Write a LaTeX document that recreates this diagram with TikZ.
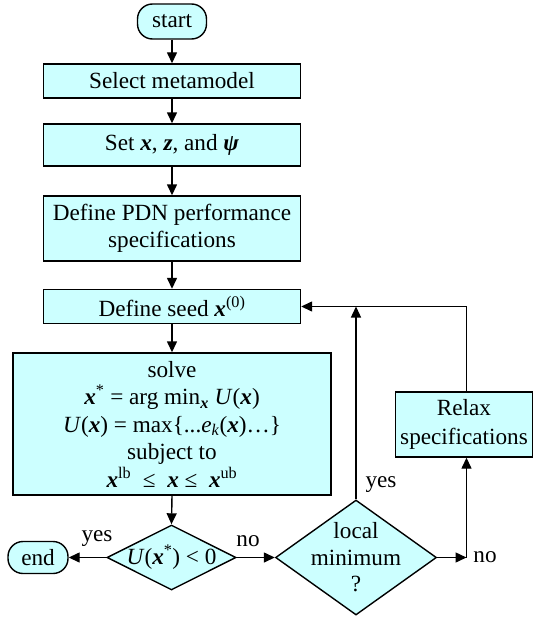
\documentclass[tikz,border=0pt]{standalone}
\usepackage{fontspec}
\setmainfont{Liberation Serif}
\usetikzlibrary{shapes.geometric,arrows.meta}
\definecolor{boxfill}{HTML}{CCFFFF}
\newcommand{\bvx}{\textbf{\textit{x}}}
\newcommand{\bvz}{\textbf{\textit{z}}}
\newcommand{\bvpsi}{\textbf{\textit{ψ}}}
\begin{document}
\begin{tikzpicture}[x=1pt,y=-1pt,
  font=\fontsize{23.2}{27}\selectfont,
  box/.style={draw, fill=boxfill, line width=1.4pt, inner sep=0pt, align=center},
  term/.style={box, rounded corners=15pt},
  dia/.style={draw, fill=boxfill, diamond, line width=1.4pt, inner sep=0pt},
  arr/.style={line width=1.4pt, -{Triangle[length=11pt,width=10pt]}},
  lab/.style={inner sep=0pt}]
\useasboundingbox (0,0) rectangle (533,618);

\node[term, minimum width=69pt, minimum height=35pt] (start) at (172,21.5) {start};
\node[box, minimum width=257pt, minimum height=34pt] (select) at (172,81) {Select metamodel};
\node[box, minimum width=257pt, minimum height=42pt] (set) at (172,145) {Set \bvx, \bvz, and \bvpsi};
\node[box, minimum width=257pt, minimum height=65pt, font=\fontsize{23.2}{26.5}\selectfont] (pdn) at (172,228.5) {Define PDN performance\\specifications};
\node[box, minimum width=257pt, minimum height=34pt] (seed) at (172,306.5) {Define seed \bvx\textsuperscript{(0)}};
\node[box, minimum width=318pt, minimum height=142pt, font=\fontsize{23.2}{27.5}\selectfont] (solve) at (172,424)
  {solve\\
   \bvx\textsuperscript{*} = arg min\textsubscript{\bvx} \textit{U}(\bvx)\\
   \textit{U}(\bvx) = max\{...\textit{e}\textsubscript{\textit{k}}(\bvx)…\}\\
   subject to\\
   \bvx\textsuperscript{lb} \ ≤ \ \bvx \ ≤ \ \bvx\textsuperscript{ub}};
\node[dia, minimum width=129pt, minimum height=65pt,
  label={center:{\textit{U}(\bvx\textsuperscript{*}) < 0}}] (d1) at (171.5,557.5) {};
\node[term, minimum width=60pt, minimum height=32pt] (end) at (38,557.5) {end};
\node[dia, minimum width=161pt, minimum height=115pt,
  label={[align=center, font=\fontsize{23.2}{26.5}\selectfont]center:local\\minimum\\?}] (d2) at (356,557.5) {};
\node[box, minimum width=137pt, minimum height=65pt, font=\fontsize{23.2}{29}\selectfont] (relax) at (464,424.5) {Relax\\specifications};

\coordinate (turn) at (466.5,557.5);

\draw[arr] (start) -- (select);
\draw[arr] (select) -- (set);
\draw[arr] (set) -- (pdn);
\draw[arr] (pdn) -- (seed);
\draw[arr] (seed) -- (solve);
\draw[arr] (solve.south) -- (d1.north);
\draw[arr] (d1.west) -- (end.east);
\draw[arr] (d1.east) -- (d2.west);
\draw[arr] (d2.north) -- (d2.north |- seed.east);
\draw[arr] (d2.east) -- (turn);
\draw[arr] (turn) -- (turn |- relax.south);
\draw[arr] (turn |- relax.north) |- (seed.east);

\node[lab] (yes1) at (97,539) {yes};
\node[lab] (no1) at (248,541) {no};
\node[lab] (yes2) at (381,485) {yes};
\node[lab] (no2) at (485,557) {no};
\end{tikzpicture}
\end{document}
